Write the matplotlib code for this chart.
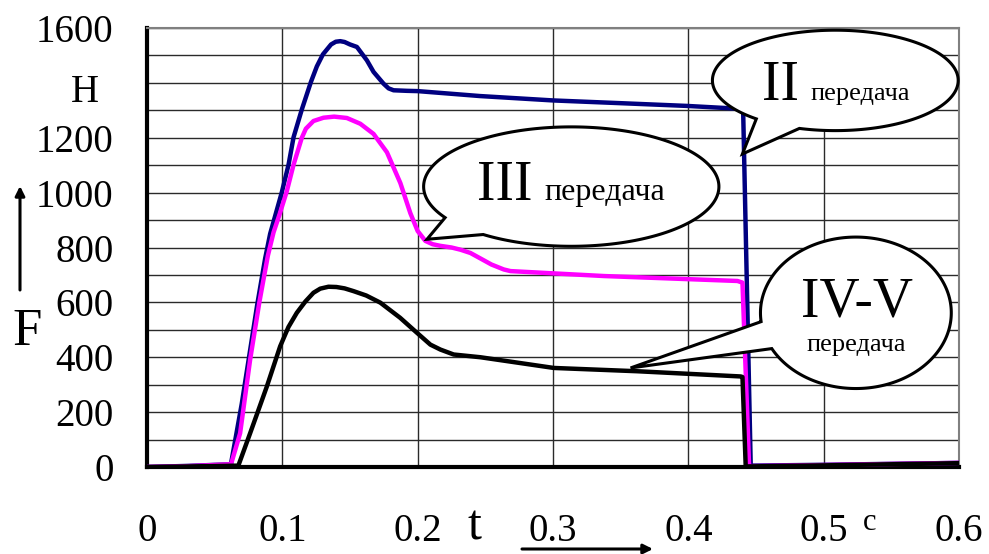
import numpy as np
import matplotlib
matplotlib.use("Agg")
import matplotlib.pyplot as plt
from matplotlib.patches import Polygon

plt.rcParams['font.family'] = ['Liberation Serif', 'DejaVu Serif']

# Time (s) and force (N) for gear II
t_ii = [0.0, 0.03, 0.062, 0.070, 0.0814, 0.0873, 0.0910, 0.0947, 0.0996, 0.1046,
        0.1083, 0.1144, 0.1211, 0.1255, 0.130, 0.136, 0.1395, 0.1428, 0.146, 0.150,
        0.1551, 0.1625, 0.1674, 0.1748, 0.1785, 0.1822, 0.1921, 0.200, 0.246, 0.300,
        0.350, 0.399, 0.4363, 0.4405, 0.4461, 0.500, 0.600]
f_ii = [0, 4, 10, 230, 590, 760, 850, 915, 1001, 1102,
        1202, 1303, 1403, 1460, 1504, 1540, 1550, 1552, 1549, 1540,
        1531, 1482, 1440, 1397, 1380, 1373, 1371, 1370, 1352, 1336,
        1326, 1316, 1306, 1300, 5, 8, 15]

# Gear III
t_iii = [0.0, 0.03, 0.0621, 0.0688, 0.0762, 0.0830, 0.0893, 0.0935, 0.0979, 0.1033,
         0.1083, 0.1144, 0.1174, 0.123, 0.1304, 0.1383, 0.1477, 0.1576, 0.1674, 0.1773,
         0.1872, 0.1946, 0.2000, 0.2057, 0.2110, 0.2168, 0.225, 0.2316, 0.239, 0.2464,
         0.2545, 0.2636, 0.2686, 0.3376, 0.4363, 0.440, 0.4449, 0.500, 0.600]
f_iii = [0, 3, 10, 123, 391, 600, 770, 855, 920, 1005,
         1102, 1200, 1233, 1261, 1273, 1277, 1272, 1251, 1214, 1147,
         1035, 925, 860, 824, 812, 806, 800, 792, 780, 760,
         738, 720, 714, 696, 678, 672, 3, 7, 15]

# Gears IV-V
t_iv = [0.0, 0.03, 0.0675, 0.0762, 0.0886, 0.0984, 0.1045, 0.1107, 0.117, 0.123,
        0.128, 0.1341, 0.140, 0.146, 0.1526, 0.162, 0.1724, 0.187, 0.1995, 0.2094,
        0.2168, 0.2266, 0.2464, 0.3006, 0.3623, 0.4387, 0.440, 0.4424, 0.500, 0.600]
f_iv = [0, 2, 5, 123, 294, 440, 510, 562, 603, 635,
        650, 657, 656, 651, 641, 625, 599, 544, 489, 446,
        428, 410, 400, 361, 349, 330, 328, 2, 6, 14]

x_ticks = [0, 0.1, 0.2, 0.3, 0.4, 0.5, 0.6]
x_tick_labels = ['0', '0.1', '0.2', '0.3', '0.4', '0.5', '0.6']
y_ticks = [0, 200, 400, 600, 800, 1000, 1200, 1400, 1600]
y_tick_labels = ['0', '200', '400', '600', '800', '1000', '1200', '', '1600']

W, H = 989, 554
fig = plt.figure(figsize=(W / 100, H / 100), dpi=100)
ax = fig.add_axes([147 / W, 1 - 467 / H, (959 - 147) / W, (467 - 28) / H])

ax.set_xlim(0, 0.6)
ax.set_ylim(0, 1600)
ax.set_xticks(x_ticks)
ax.set_xticklabels(x_tick_labels)
ax.set_yticks(y_ticks)
ax.set_yticklabels(y_tick_labels)
ax.set_yticks(np.arange(100, 1600, 200), minor=True)
ax.tick_params(axis='both', which='both', length=0)
ax.tick_params(axis='y', labelsize=28, pad=24)
ax.tick_params(axis='x', labelsize=28, pad=33)

ax.grid(True, which='both', axis='y', color='#2a2a2a', lw=1.0)
ax.grid(True, which='major', axis='x', color='#2a2a2a', lw=1.0)
ax.set_axisbelow(True)

for side in ('top', 'right'):
    ax.spines[side].set_color('#808080')
    ax.spines[side].set_linewidth(1.5)
for side in ('left', 'bottom'):
    ax.spines[side].set_color('black')
    ax.spines[side].set_linewidth(3.0)

ax.plot(t_ii, f_ii, color='#000080', lw=3.2, solid_joinstyle='round', zorder=3)
ax.plot(t_iii, f_iii, color='#ff00ff', lw=3.2, solid_joinstyle='round', zorder=3)
ax.plot(t_iv, f_iv, color='black', lw=3.2, solid_joinstyle='round', zorder=3)


def callout(cx, cy, a, b, th1, th2, tip):
    """Speech bubble: ellipse outline with a wedge tail between angles th1..th2."""
    th = np.linspace(np.radians(th2), np.radians(th1) + 2 * np.pi, 240)
    pts = np.column_stack([cx + a * np.cos(th), cy + b * np.sin(th)])
    pts = np.vstack([pts, [tip]])
    ax.add_patch(Polygon(pts, closed=True, fc='white', ec='black', lw=2.2,
                         zorder=5, clip_on=False, joinstyle='miter'))


callout(0.5086, 1409, 0.0908, 183, -130, -107, (0.440, 1141))
callout(0.3135, 1022, 0.1091, 217.6, -148.7, -126.6, (0.2069, 830))
callout(0.5238, 562, 0.0705, 276, -173.3, -151.8, (0.3573, 361))

ax.text(0.4548, 1336, 'II', fontsize=40, ha='left', va='baseline', zorder=6)
ax.text(0.4905, 1336, 'передача', fontsize=19, ha='left', va='baseline', zorder=6)
ax.text(0.2441, 973, 'III', fontsize=40, ha='left', va='baseline', zorder=6)
ax.text(0.2937, 973, 'передача', fontsize=23, ha='left', va='baseline', zorder=6)
ax.text(0.4831, 550, 'IV-V', fontsize=40, ha='left', va='baseline', zorder=6)
ax.text(0.5238, 422, 'передача', fontsize=19, ha='center', va='baseline', zorder=6)

# Axis captions
fig.text(85 / W, 1 - 101.7 / H, 'Н', fontsize=28, ha='center', va='baseline')
fig.text(12 / W, 1 - 345 / H, 'F', fontsize=38, ha='left', va='baseline')
fig.text(468 / W, 1 - 540 / H, 't', fontsize=36, ha='left', va='baseline')
fig.text(870 / W, 1 - 530 / H, 'с', fontsize=22, ha='center', va='baseline')

ax.annotate('', xy=(20 / W, 1 - 186 / H), xytext=(20 / W, 1 - 290 / H),
            xycoords='figure fraction', textcoords='figure fraction',
            arrowprops=dict(arrowstyle='-|>', color='black', lw=2.2,
                            mutation_scale=14, shrinkA=0, shrinkB=0))
ax.annotate('', xy=(653 / W, 1 - 549 / H), xytext=(522 / W, 1 - 549 / H),
            xycoords='figure fraction', textcoords='figure fraction',
            arrowprops=dict(arrowstyle='-|>', color='black', lw=2.2,
                            mutation_scale=14, shrinkA=0, shrinkB=0))

fig.savefig('out.png', dpi=100)
